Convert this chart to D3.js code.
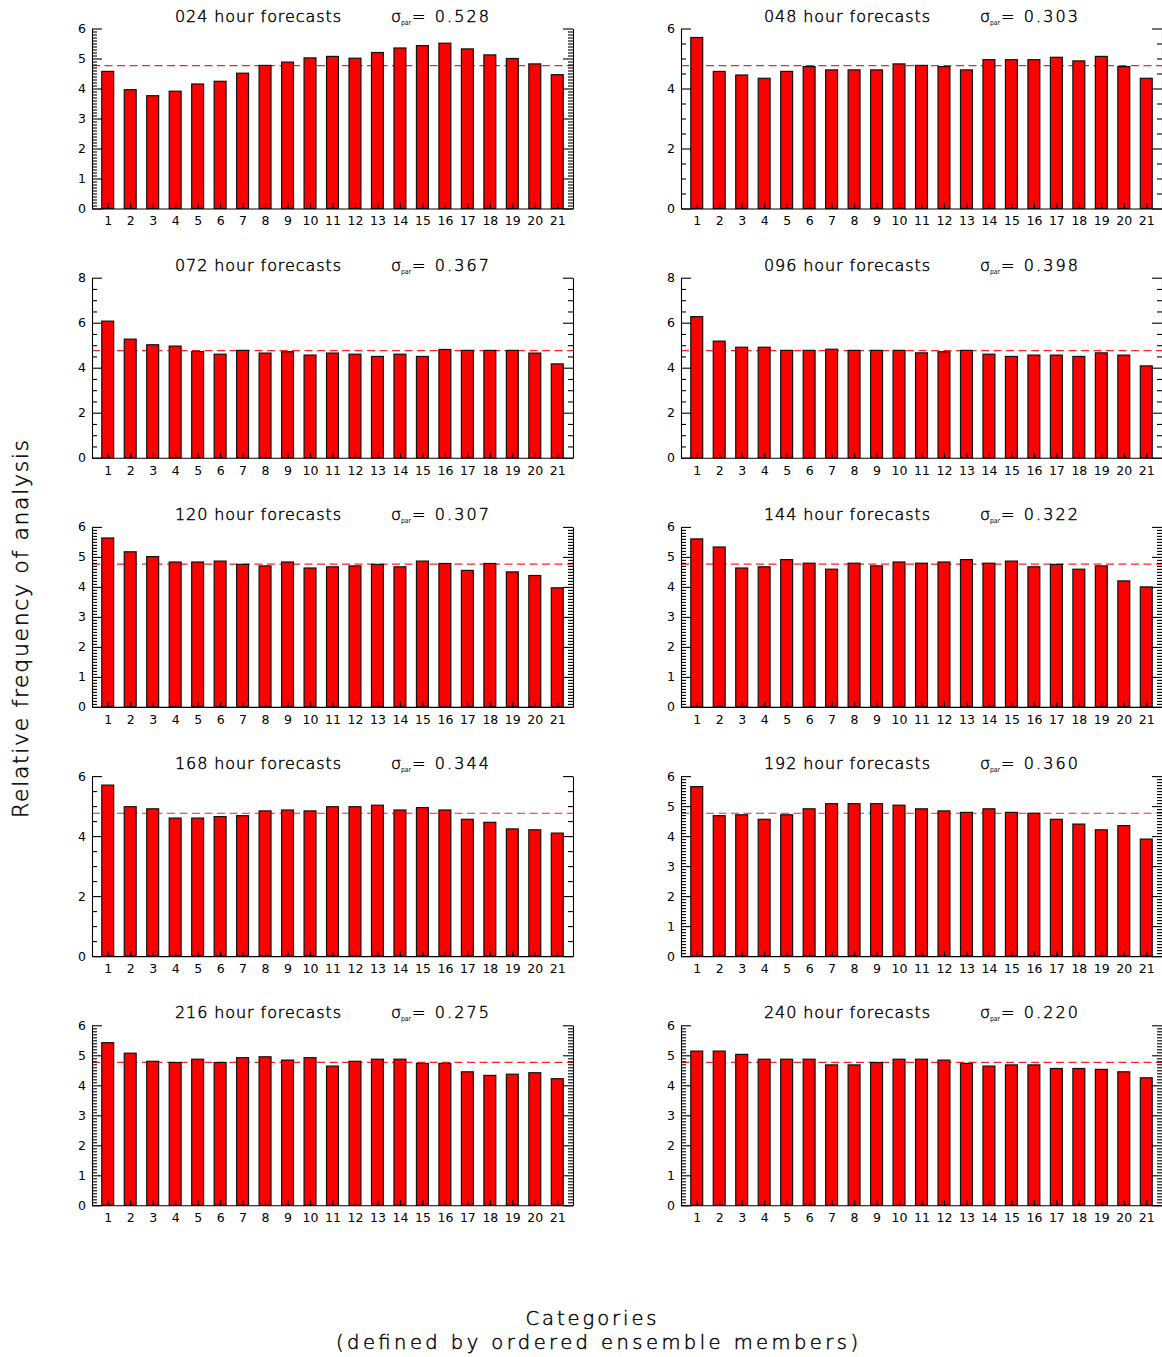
<!DOCTYPE html>
<html>
<head>
<meta charset="utf-8">
<script src="https://cdn.jsdelivr.net/npm/d3@7"></script>
<style>
  html, body { margin: 0; padding: 0; background: #fff; }
  svg { display: block; }
  text { font-family: "DejaVu Sans", "Liberation Sans", sans-serif; fill: #000; }
  .thin { font-weight: 200; stroke: #000; stroke-width: 0.45px; }
</style>
</head>
<body>
<svg id="chart" width="1162" height="1357"></svg>
<script>
// Rank histograms: relative frequency of the analysis in each of the 21 categories
const categories = [1, 2, 3, 4, 5, 6, 7, 8, 9, 10, 11, 12, 13, 14, 15, 16, 17, 18, 19, 20, 21];
const leadTimes = ["024", "048", "072", "096", "120", "144", "168", "192", "216", "240"];
const sigmaPar = ["0.528", "0.303", "0.367", "0.398", "0.307", "0.322", "0.344", "0.360", "0.275", "0.220"];

const freq024 = [4.57, 3.96, 3.76, 3.91, 4.15, 4.24, 4.51, 4.77, 4.88, 5.02, 5.07, 5.01, 5.20, 5.35, 5.43, 5.51, 5.32, 5.12, 5.00, 4.82, 4.46];
const freq048 = [5.70, 4.57, 4.45, 4.34, 4.57, 4.73, 4.62, 4.62, 4.62, 4.82, 4.77, 4.73, 4.62, 4.96, 4.96, 4.96, 5.04, 4.92, 5.07, 4.73, 4.34];
const freq072 = [6.07, 5.27, 5.02, 4.96, 4.72, 4.60, 4.77, 4.65, 4.71, 4.56, 4.65, 4.60, 4.50, 4.60, 4.50, 4.81, 4.77, 4.77, 4.77, 4.65, 4.17];
const freq096 = [6.27, 5.18, 4.91, 4.91, 4.77, 4.77, 4.82, 4.77, 4.77, 4.77, 4.66, 4.71, 4.77, 4.60, 4.50, 4.56, 4.56, 4.50, 4.66, 4.56, 4.08];
const freq120 = [5.63, 5.17, 5.01, 4.83, 4.83, 4.86, 4.75, 4.70, 4.83, 4.63, 4.67, 4.70, 4.75, 4.67, 4.86, 4.78, 4.55, 4.78, 4.50, 4.38, 3.97];
const freq144 = [5.60, 5.33, 4.63, 4.67, 4.91, 4.79, 4.59, 4.79, 4.70, 4.83, 4.79, 4.83, 4.91, 4.79, 4.86, 4.67, 4.75, 4.59, 4.70, 4.20, 4.00];
const freq168 = [5.70, 4.98, 4.91, 4.60, 4.60, 4.65, 4.68, 4.84, 4.87, 4.84, 4.98, 4.98, 5.03, 4.87, 4.95, 4.87, 4.56, 4.46, 4.24, 4.21, 4.10];
const freq192 = [5.65, 4.68, 4.71, 4.56, 4.71, 4.91, 5.08, 5.08, 5.08, 5.03, 4.91, 4.84, 4.79, 4.91, 4.79, 4.76, 4.56, 4.40, 4.21, 4.35, 3.90];
const freq216 = [5.42, 5.07, 4.80, 4.76, 4.87, 4.76, 4.92, 4.95, 4.84, 4.92, 4.64, 4.80, 4.87, 4.87, 4.73, 4.73, 4.45, 4.33, 4.37, 4.42, 4.22];
const freq240 = [5.14, 5.14, 5.03, 4.87, 4.87, 4.87, 4.68, 4.68, 4.76, 4.87, 4.87, 4.84, 4.73, 4.64, 4.68, 4.68, 4.56, 4.56, 4.53, 4.45, 4.25];

const panelData = [freq024, freq048, freq072, freq096, freq120, freq144, freq168, freq192, freq216, freq240];

// y axis setup per panel: upper limit, labelled step, minor step
const yTop = [6, 6, 8, 8, 6, 6, 6, 6, 6, 6];
const yMajor = [1, 2, 2, 2, 1, 1, 2, 1, 1, 1];
const yMinor = [0.1, 0.5, 0.5, 0.5, 0.1, 0.1, 0.5, 0.1, 0.1, 0.1];

// frequency expected for a flat histogram (100% / 21 categories)
const expectedFreq = 4.762;

const yAxisTitle = "Relative frequency of analysis";
const xAxisTitle = ["Categories", "(defined by ordered ensemble members)"];

// ---- layout ----
const colLeft = [92, 681];
const panelW = 481;
const rowTop0 = 28.5;
const rowPitch = 249.2;
const panelH = 180;
const barW = 0.53;   // bar width in category units

const svg = d3.select("#chart");

function steps(max, step) {
  const out = [];
  const n = Math.round(max / step);
  for (let i = 0; i <= n; i++) out.push(+(i * step).toFixed(4));
  return out;
}

panelData.forEach((vals, i) => {
  const col = i % 2, row = Math.floor(i / 2);
  const x0 = colLeft[col];
  const y0 = rowTop0 + row * rowPitch;

  const x = d3.scaleLinear().domain([0.3, 21.7]).range([x0, x0 + panelW]);
  const y = d3.scaleLinear().domain([0, yTop[i]]).range([y0 + panelH, y0]);

  const g = svg.append("g");

  // flat-histogram reference level
  g.append("line")
    .attr("x1", x(0.3)).attr("x2", x(21.7))
    .attr("y1", y(expectedFreq)).attr("y2", y(expectedFreq))
    .attr("stroke", "#ff2020").attr("stroke-width", 1.2)
    .attr("stroke-dasharray", "8,4.5");

  // bars
  g.selectAll("rect.bar")
    .data(vals)
    .join("rect")
    .attr("class", "bar")
    .attr("x", (d, k) => x(categories[k] - barW / 2))
    .attr("width", x(barW) - x(0))
    .attr("y", d => y(d))
    .attr("height", d => y(0) - y(d))
    .attr("fill", "#ff0000")
    .attr("stroke", "#111")
    .attr("stroke-width", 1.2);

  const majors = steps(yTop[i], yMajor[i]);
  const minors = steps(yTop[i], yMinor[i]).filter(v => !majors.some(m => Math.abs(m - v) < 1e-6));

  // left axis with labels, ticks pointing inward
  g.append("g")
    .attr("transform", `translate(${x0},0)`)
    .call(d3.axisLeft(y).tickValues(majors).tickSizeInner(-10).tickSizeOuter(0).tickPadding(6).tickFormat(d3.format("d")));
  g.append("g")
    .attr("transform", `translate(${x0},0)`)
    .call(d3.axisLeft(y).tickValues(minors).tickSizeInner(-5).tickSizeOuter(0).tickFormat(""))
    .call(a => a.select(".domain").remove());

  // right axis, mirrored ticks
  g.append("g")
    .attr("transform", `translate(${x0 + panelW},0)`)
    .call(d3.axisRight(y).tickValues(majors).tickSizeInner(-10).tickSizeOuter(0).tickFormat(""));
  g.append("g")
    .attr("transform", `translate(${x0 + panelW},0)`)
    .call(d3.axisRight(y).tickValues(minors).tickSizeInner(-5).tickSizeOuter(0).tickFormat(""))
    .call(a => a.select(".domain").remove());

  // bottom axis with category numbers
  g.append("g")
    .attr("transform", `translate(0,${y0 + panelH})`)
    .call(d3.axisBottom(x).tickValues(categories).tickSizeInner(-5).tickSizeOuter(0).tickPadding(8).tickFormat(d3.format("d")));

  g.selectAll(".tick text")
    .style("font-family", '"DejaVu Sans", sans-serif')
    .style("font-weight", 400)
    .style("font-size", "12.5px")
    .attr("fill", "#000");
  g.selectAll(".domain, .tick line").attr("stroke", "#000").attr("stroke-width", 1.1);

  // panel titles
  g.append("text")
    .attr("class", "thin")
    .attr("x", x0 + 166).attr("y", y0 - 7)
    .attr("text-anchor", "middle")
    .attr("textLength", 166).attr("lengthAdjust", "spacing")
    .style("font-size", "16px")
    .text(`${leadTimes[i]} hour forecasts`);

  g.append("text")
    .attr("class", "thin")
    .attr("x", x0 + 299).attr("y", y0 - 7)
    .style("font-size", "16px")
    .text("σ");
  g.append("text")
    .attr("x", x0 + 309).attr("y", y0 - 4)
    .attr("textLength", 10).attr("lengthAdjust", "spacingAndGlyphs")
    .style("font-size", "7px")
    .text("par");
  g.append("text")
    .attr("class", "thin")
    .attr("x", x0 + 320).attr("y", y0 - 7)
    .attr("textLength", 77).attr("lengthAdjust", "spacing")
    .style("font-size", "16px")
    .text(`= ${sigmaPar[i]}`);
});

// shared axis titles
svg.append("text")
  .attr("class", "thin")
  .attr("transform", "translate(28,629) rotate(-90)")
  .attr("text-anchor", "middle")
  .attr("textLength", 378).attr("lengthAdjust", "spacing")
  .style("font-size", "22px")
  .text(yAxisTitle);

svg.append("text")
  .attr("class", "thin")
  .attr("x", 591).attr("y", 1325)
  .attr("text-anchor", "middle")
  .attr("textLength", 131).attr("lengthAdjust", "spacing")
  .style("font-size", "19.5px")
  .text(xAxisTitle[0]);

svg.append("text")
  .attr("class", "thin")
  .attr("x", 597).attr("y", 1349)
  .attr("text-anchor", "middle")
  .attr("textLength", 522).attr("lengthAdjust", "spacing")
  .style("font-size", "19.5px")
  .text(xAxisTitle[1]);
</script>
</body>
</html>
